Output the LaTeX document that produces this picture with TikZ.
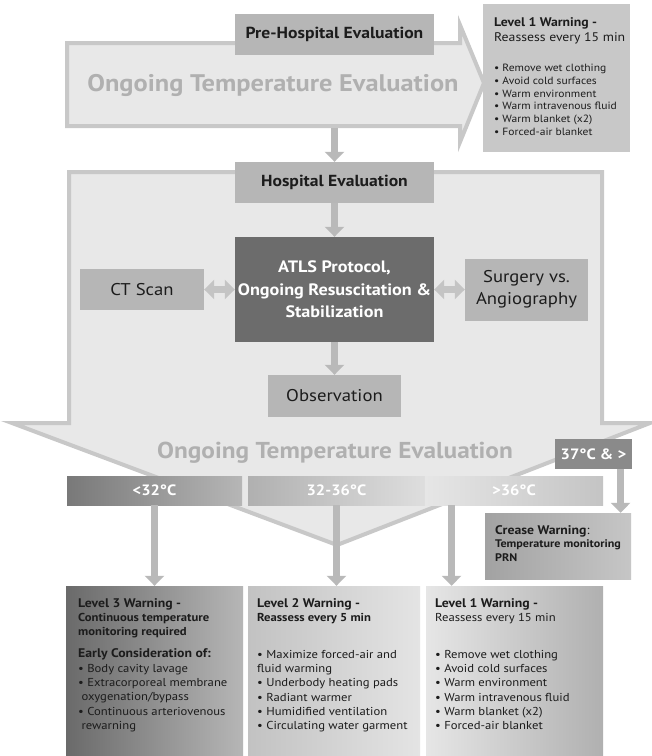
\documentclass[tikz,border=0pt]{standalone}
\usepackage{fontspec}
\setmainfont{PT Sans}[FakeStretch=1.1]
\usetikzlibrary{positioning, arrows.meta, calc}
\definecolor{shapefill}{HTML}{E8E8E8}
\definecolor{shapeline}{HTML}{C8C8C8}
\definecolor{boxgray}{HTML}{B6B6B6}
\definecolor{warngray}{HTML}{C8C8C8}
\definecolor{darkbox}{HTML}{6C6C6C}
\definecolor{hotgray}{HTML}{8A8A8A}
\definecolor{arrowgray}{HTML}{B9B9B9}
\definecolor{bigtext}{HTML}{B0B0B0}
\definecolor{inktext}{HTML}{1C1C1C}
% gradient ends
\definecolor{gA}{HTML}{6A6A6A}
\definecolor{gB}{HTML}{B6B6B6}
\definecolor{gC}{HTML}{C2C2C2}
\definecolor{gD}{HTML}{E4E4E4}
\definecolor{gE}{HTML}{E6E6E6}
\definecolor{gF}{HTML}{B0B0B0}
\definecolor{gG}{HTML}{A2A2A2}
\definecolor{gH}{HTML}{C6C6C6}
\definecolor{gI}{HTML}{DEDEDE}
\definecolor{gJ}{HTML}{C4C4C4}

\begin{document}
\begin{tikzpicture}[x=1pt, y=-1pt,
    box/.style={fill=boxgray, text=inktext, inner sep=0pt, align=center},
    flow/.style={arrowgray, line width=7pt, -{Triangle[width=19pt, length=10pt]}},
    twoway/.style={arrowgray!85, line width=7pt,
      {Triangle[width=19pt, length=10pt]}-{Triangle[width=19pt, length=10pt]}},
    bigarrow/.style={fill=shapefill, draw=shapeline, line width=4pt},
    bigtxt/.style={text=bigtext, font=\fontsize{24}{26}\selectfont\bfseries},
    bartxt/.style={inner sep=0pt, text=white, font=\fontsize{15}{16}\selectfont\bfseries},
    wtxt/.style={inner sep=0pt, anchor=north west, align=left, text=inktext,
      font=\fontsize{11.5}{14.3}\selectfont}]
    \fill[white] (0,0) rectangle (652,756);
    \useasboundingbox (0,0) rectangle (652,756);
    % Pre-hospital arrow
    \draw[bigarrow] (67,43) -- (460,43) -- (460,25) -- (484,83) -- (460,142)
      -- (460,126) -- (67,126) -- cycle;
    \node[bigtxt] (topeval) at (273,85) {Ongoing Temperature Evaluation};
    \coordinate (topout) at (334.5,128);
    % Hospital arrow
    \draw[bigarrow] (69,172) -- (602,172) -- (602,423) -- (650,423) -- (337,545)
      -- (12,423) -- (69,423) -- cycle;
    \node[bigtxt, font=\fontsize{23}{26}\selectfont\bfseries] (boteval) at (335,453)
      {Ongoing Temperature Evaluation};
    % Boxes
    \node[box, minimum width=199pt, minimum height=41pt, font=\fontsize{16}{18}\selectfont\bfseries]
      (prehosp) at (334.5,34.5) {Pre-Hospital Evaluation};
    \node[box, fill=warngray, minimum width=147pt, minimum height=148pt] (topwarn) at (556.5,78) {};
    \node[box, minimum width=199pt, minimum height=41pt, font=\fontsize{16}{18}\selectfont\bfseries]
      (hosp) at (334.5,182.5) {Hospital Evaluation};
    \node[box, fill=darkbox, text=white, minimum width=199pt, minimum height=105pt,
      font=\fontsize{16.5}{22.5}\selectfont\bfseries]
      (atls) at (334.5,289.5) {ATLS Protocol,\\Ongoing Resuscitation \&\\Stabilization};
    \node[box, minimum width=124pt, minimum height=41pt, font=\fontsize{17}{22}\selectfont]
      (ct) at (142,289.5) {CT Scan};
    \node[box, minimum width=123pt, minimum height=62pt, font=\fontsize{17}{22}\selectfont]
      (surg) at (526.5,289.5) {Surgery vs.\\Angiography};
    \node[box, minimum width=133pt, minimum height=42pt, font=\fontsize{17}{22}\selectfont]
      (obs) at (334.5,396) {Observation};
    % Temperature bars
    \node[box, fill=hotgray, minimum width=77pt, minimum height=30pt, text=white,
      font=\fontsize{15}{16}\selectfont\bfseries] (hot) at (593.5,454) {37°C \& >};
    \node[bartxt, left color=gA!90!white, right color=gB, minimum width=175pt, minimum height=29pt]
      (barlow) at (154.5,490.5) {<32°C};
    \node[bartxt, left color=gF, right color=gI, minimum width=177pt, minimum height=29pt]
      (barmid) at (336.5,490.5) {32-36°C};
    \node[bartxt, left color=gE, right color=gJ, minimum width=178pt, minimum height=29pt]
      (barhi) at (514,490.5) {>36°C};
    \node[box, left color=gG, right color=gH, minimum width=146pt, minimum height=66pt]
      (crease) at (558,546) {};
    % Warning levels
    \node[box, left color=gA, right color=gB, minimum width=177pt, minimum height=170pt]
      (lvlthree) at (154.5,671) {};
    \node[box, left color=gC, right color=gD, minimum width=172pt, minimum height=170pt]
      (lvltwo) at (334,671) {};
    \node[box, left color=gE, right color=gF, minimum width=177pt, minimum height=170pt]
      (lvlone) at (514.5,671) {};
    % Texts
    \node[wtxt, font=\fontsize{12.5}{15.5}\selectfont] (topwarnhead) at (494,17)
      {\textbf{Level 1 Warning -}\\Reassess every 15 min};
    \node[wtxt, font=\fontsize{10.5}{12.7}\selectfont] (topwarnlist) at (494,64)
      {• Remove wet clothing\\• Avoid cold surfaces\\• Warm environment\\
       • Warm intravenous fluid\\• Warm blanket (x2)\\• Forced-air blanket};
    \node[wtxt, font=\fontsize{11}{13.5}\selectfont\bfseries] (creasetxt) at (495,525)
      {{\fontsize{12.5}{13.5}\selectfont Crease Warning\mdseries:}\\Temperature monitoring\\PRN};
    \node[wtxt] (lvlthreetxt) at (78,598)
      {{\fontsize{12.5}{14.3}\selectfont\textbf{Level 3 Warning -}}\\\textbf{Continuous temperature}\\
       \textbf{monitoring required}\\[8pt]
       {\fontsize{12.5}{14.3}\selectfont\textbf{Early Consideration of:}}\\• Body cavity lavage\\
       • Extracorporeal membrane\\\ oxygenation/bypass\\• Continuous arteriovenous\\\ rewarning};
    \node[wtxt] (lvltwotxt) at (257,598)
      {{\fontsize{12.5}{14.3}\selectfont\textbf{Level 2 Warning -}}\\\textbf{Reassess every 5 min}\\[22.5pt]
       • Maximize forced-air and\\fluid warming\\• Underbody heating pads\\• Radiant warmer\\
       • Humidified ventilation\\• Circulating water garment};
    \node[wtxt] (lvlonetxt) at (435,598)
      {{\fontsize{12.5}{14.3}\selectfont\textbf{Level 1 Warning -}}\\Reassess every 15 min\\[22.5pt]
       • Remove wet clothing\\• Avoid cold surfaces\\• Warm environment\\
       • Warm intravenous fluid\\• Warm blanket (x2)\\• Forced-air blanket};
    % Connectors
    \draw[flow] (topout) -- (hosp.north);
    \draw[flow] (hosp) -- (atls);
    \draw[flow] (atls) -- (obs);
    \draw[twoway] (ct) -- (atls);
    \draw[twoway] (atls) -- (surg);
    \coordinate (hotout) at ($(hot.south west)!0.85!(hot.south east)$);
    \draw[flow] (hotout) -- (hotout |- crease.north);
    \draw[flow] (barlow) -- (lvlthree);
    \draw[flow] (barmid.south) -- (barmid.south |- lvltwo.north);
    \coordinate (hiout) at ($(barhi.south west)!0.15!(barhi.south east)$);
    \draw[flow] (hiout) -- (hiout |- lvlone.north);
\end{tikzpicture}
\end{document}
